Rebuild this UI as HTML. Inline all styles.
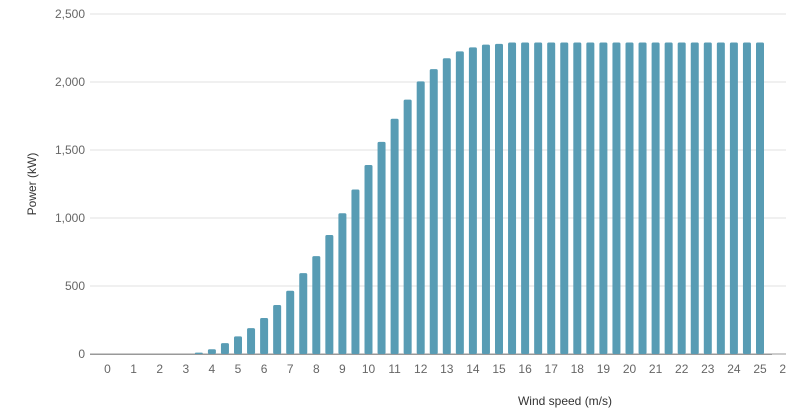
<!DOCTYPE html>
<html><head><meta charset="utf-8"><style>
body{margin:0;background:#fff;overflow:hidden;width:786px;height:416px}
svg{display:block;font-family:"Liberation Sans",Roboto,sans-serif}
</style></head><body>
<svg id="chart" width="786" height="416"></svg>
<script>
const windSpeeds=[];for(let i=0;i<=50;i++)windSpeeds.push(i/2);
const powerValues=[0,0,0,0,0,0,0,10,35,80,130,190,265,360,465,595,720,875,1035,1210,1390,1560,1730,1870,2005,2095,2175,2225,2255,2275,2280,2290,2290,2290,2290,2290,2290,2290,2290,2290,2290,2290,2290,2290,2290,2290,2290,2290,2290,2290,2290];
const yTicks=[0,500,1000,1500,2000,2500];
const xTicks=[0,1,2,3,4,5,6,7,8,9,10,11,12,13,14,15,16,17,18,19,20,21,22,23,24,25,26];
const NS="http://www.w3.org/2000/svg";
const svg=document.getElementById('chart');
const x=v=>107.5+v*26.1;
const y=v=>354-v*0.136;
function mk(t,a){const e=document.createElementNS(NS,t);for(const k in a)e.setAttribute(k,a[k]);svg.appendChild(e);return e;}
yTicks.forEach(t=>{
 const g=mk('line',{x1:90,x2:786,y1:y(t),y2:y(t),stroke:t===0?'#999':'#e0e0e0','stroke-width':1});
 
 
 const l=mk('text',{x:85,y:y(t)+4,'text-anchor':'end','font-size':12,fill:'#666'});
 l.textContent=t.toLocaleString('en-US');
 
 
});
windSpeeds.forEach((w,i)=>{
 const v=powerValues[i];if(v<=0)return;
 const b=mk('rect',{x:x(w)-4,y:y(v),width:8,height:354-y(v),rx:1.5,fill:'#589cb4'});
 
 
});
mk('line',{x1:90,x2:772,y1:354.5,y2:354.5,stroke:'#999','stroke-width':1});
xTicks.forEach(t=>{
 const l=mk('text',{x:x(t),y:373,'text-anchor':'middle','font-size':12,fill:'#666'});
 l.textContent=t;
 
 
});
const xt=mk('text',{x:565,y:405,'text-anchor':'middle','font-size':12,fill:'#333'});
xt.textContent='Wind speed (m/s)';


const yt=mk('text',{x:36,y:184,'text-anchor':'middle','font-size':12,fill:'#333',transform:'rotate(-90 36 184)'});
yt.textContent='Power (kW)';


</script>
</body></html>
